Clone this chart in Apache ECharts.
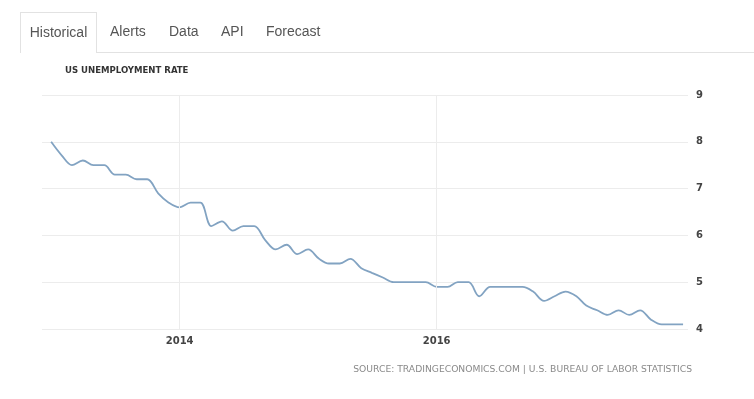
<!DOCTYPE html>
<html>
<head>
<meta charset="utf-8">
<script src="https://cdn.jsdelivr.net/npm/echarts@6/dist/echarts.min.js"></script>
<style>
    body { margin: 0; background: #fff; }
    #tabs { position: absolute; left: 0; top: 0; width: 754px; height: 53px; z-index: 2; font-family: "Liberation Sans", Arial, sans-serif; font-size: 14px; color: #555; }
    #tabs .line { position: absolute; left: 97px; right: 0; top: 52px; border-top: 1px solid #e2e2e2; }
    #tabs .tab { position: absolute; top: 23px; }
    #tabs .active { left: 20px; top: 12px; width: 77px; height: 41px; border: 1px solid #e2e2e2; border-bottom: none; background: #fff; box-sizing: border-box; padding-top: 11px; text-align: center; }
    #chart { position: absolute; left: 0; top: 0; width: 754px; height: 399px; }
</style>
</head>
<body>
<div id="tabs">
    <div class="line"></div>
    <div class="tab active">Historical</div>
    <div class="tab" style="left:110px">Alerts</div>
    <div class="tab" style="left:169px">Data</div>
    <div class="tab" style="left:221px">API</div>
    <div class="tab" style="left:266px">Forecast</div>
</div>
<div id="chart"></div>
<script>
    // 月度失业率 2013-01 ~ 2017-12
    var years = [2013, 2014, 2015, 2016, 2017];
    var rate2013 = [8.0, 7.7, 7.5, 7.6, 7.5, 7.5, 7.3, 7.3, 7.2, 7.2, 6.9, 6.7];
    var rate2014 = [6.6, 6.7, 6.7, 6.2, 6.3, 6.1, 6.2, 6.2, 5.9, 5.7, 5.8, 5.6];
    var rate2015 = [5.7, 5.5, 5.4, 5.4, 5.5, 5.3, 5.2, 5.1, 5.0, 5.0, 5.0, 5.0];
    var rate2016 = [4.9, 4.9, 5.0, 5.0, 4.7, 4.9, 4.9, 4.9, 4.9, 4.8, 4.6, 4.7];
    var rate2017 = [4.8, 4.7, 4.5, 4.4, 4.3, 4.4, 4.3, 4.4, 4.2, 4.1, 4.1, 4.1];
    var xTickYears = [2014, 2016];
    var yTicks = [4, 5, 6, 7, 8, 9];

    var rates = [rate2013, rate2014, rate2015, rate2016, rate2017];
    var seriesData = [];
    for (var i = 0; i < years.length; i++) {
        for (var m = 0; m < 12; m++) {
            seriesData.push([Date.UTC(years[i], m, 1), rates[i][m]]);
        }
    }

    var chart = echarts.init(document.getElementById('chart'));
    chart.setOption({
        animation: false,
        title: [{
            text: 'US UNEMPLOYMENT RATE',
            left: 60,
            top: 61,
            textStyle: {
                fontFamily: 'DejaVu Sans Condensed',
                fontSize: 9.5,
                fontWeight: 'bold',
                color: '#333'
            }
        }, {
            text: 'SOURCE: TRADINGECONOMICS.COM | U.S. BUREAU OF LABOR STATISTICS',
            right: 57,
            top: 360,
            textStyle: {
                fontFamily: 'DejaVu Sans',
                fontSize: 9.2,
                fontWeight: 'normal',
                color: '#8a8a8a'
            }
        }],
        grid: {
            left: 42,
            right: 66,
            top: 95,
            bottom: 70
        },
        xAxis: {
            type: 'time',
            min: Date.UTC(2012, 11, 6),
            max: Date.UTC(2017, 11, 15),
            axisLine: { show: false },
            axisTick: { show: false },
            splitLine: { show: false },
            axisLabel: {
                margin: 7,
                color: '#444',
                fontSize: 10,
                fontWeight: 'bold',
                fontFamily: 'DejaVu Sans',
                formatter: function (val) {
                    var d = new Date(val);
                    if (d.getUTCMonth() === 0 && d.getUTCDate() === 1 && xTickYears.indexOf(d.getUTCFullYear()) >= 0) {
                        return String(d.getUTCFullYear());
                    }
                    return '';
                }
            }
        },
        yAxis: {
            type: 'value',
            position: 'right',
            min: yTicks[0],
            max: yTicks[yTicks.length - 1],
            interval: 1,
            axisLine: { show: false },
            axisTick: { show: false },
            axisLabel: {
                margin: 8,
                color: '#444',
                fontSize: 10,
                fontWeight: 'bold',
                fontFamily: 'DejaVu Sans'
            },
            splitLine: {
                lineStyle: { color: '#ececec', width: 1 }
            }
        },
        series: [{
            type: 'line',
            smooth: 0.35,
            showSymbol: false,
            lineStyle: { color: '#82a3c2', width: 1.8 },
            data: seriesData,
            markLine: {
                silent: true,
                symbol: 'none',
                label: { show: false },
                lineStyle: { color: '#ececec', type: 'solid', width: 1 },
                data: xTickYears.map(function (y) {
                    return { xAxis: Date.UTC(y, 0, 1) };
                })
            }
        }]
    });
</script>
</body>
</html>
